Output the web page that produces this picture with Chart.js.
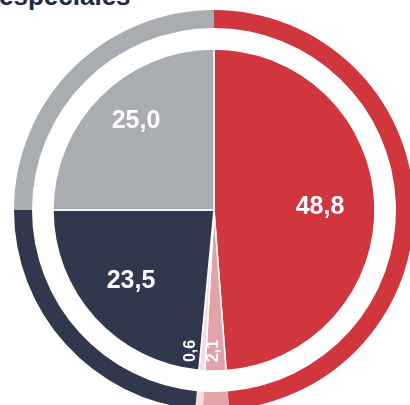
<!DOCTYPE html>
<html>
<head>
<meta charset="utf-8">
<script src="https://cdn.jsdelivr.net/npm/chart.js@4/dist/chart.umd.min.js"></script>
<style>
  html, body { margin: 0; padding: 0; width: 410px; height: 405px; overflow: hidden; background: #fff; position: relative; }
  #title { position: absolute; left: -1px; top: -17.5px; font: bold 26px "Liberation Sans", Arial, sans-serif; line-height: 26px; color: #1f2a44; white-space: nowrap; }
  #wrap { position: absolute; left: 14px; top: 10px; width: 400px; height: 400px; }
</style>
</head>
<body>
<div id="title">especiales</div>
<div id="wrap"><canvas id="c"></canvas></div>
<script>
// Shares by group (percent)
const categories = ['Grupo A', 'Grupo B', 'Grupo C', 'Grupo D', 'Grupo E'];
const shares = [48.8, 2.1, 0.6, 23.5, 25.0];
const colors = ['#d1353d', '#e2a4a8', '#f4dde0', '#30384e', '#a9acb1'];

// Label placement inside each slice: fraction of radius, angle nudge (deg), rotation
const labelPlacement = [
  { r: 0.659, dAngle: 0,   rotate: false, size: 25 },
  { r: 0.876, dAngle: 1.2, rotate: true,  size: 16 },
  { r: 0.889, dAngle: 5.7, rotate: true,  size: 16 },
  { r: 0.674, dAngle: 2.2, rotate: false, size: 25 },
  { r: 0.740, dAngle: 4.1, rotate: false, size: 25 }
];

const sliceLabels = {
  id: 'sliceLabels',
  afterDatasetsDraw(chart) {
    const meta = chart.getDatasetMeta(2);
    const ctx = chart.ctx;
    ctx.save();
    ctx.fillStyle = '#ffffff';
    ctx.textAlign = 'center';
    ctx.textBaseline = 'middle';
    meta.data.forEach((arc, i) => {
      const p = arc.getProps(['x', 'y', 'startAngle', 'endAngle', 'outerRadius'], true);
      const cfg = labelPlacement[i];
      const mid = (p.startAngle + p.endAngle) / 2 + cfg.dAngle * Math.PI / 180;
      const rr = p.outerRadius * cfg.r;
      const x = p.x + Math.cos(mid) * rr;
      const y = p.y + Math.sin(mid) * rr;
      const text = shares[i].toFixed(1).replace('.', ',');
      ctx.font = 'bold ' + cfg.size + 'px "Liberation Sans", Arial, sans-serif';
      ctx.save();
      ctx.translate(x, y);
      if (cfg.rotate) ctx.rotate(-Math.PI / 2);
      ctx.fillText(text, 0, 1);
      ctx.restore();
    });
    ctx.restore();
  }
};

new Chart(document.getElementById('c'), {
  type: 'pie',
  data: {
    labels: categories,
    datasets: [
      { data: shares, backgroundColor: colors, borderWidth: 0, weight: 18, hoverOffset: 0 },
      { data: [1], backgroundColor: 'rgba(0,0,0,0)', borderWidth: 0, weight: 21, hoverOffset: 0 },
      { data: shares, backgroundColor: colors, borderColor: '#ffffff', borderWidth: 1.5, weight: 161, hoverOffset: 0 }
    ]
  },
  options: {
    responsive: true,
    maintainAspectRatio: false,
    animation: false,
    events: [],
    layout: { padding: 0 },
    plugins: {
      legend: { display: false },
      tooltip: { enabled: false },
      title: { display: false }
    }
  },
  plugins: [sliceLabels]
});
</script>
</body>
</html>
